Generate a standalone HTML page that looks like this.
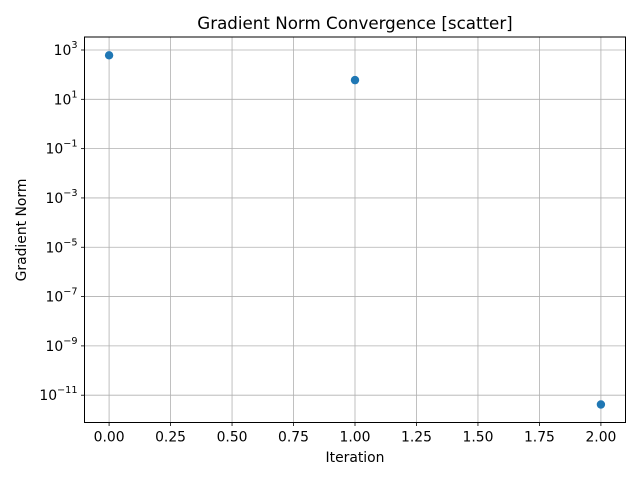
<!DOCTYPE html>
<html><head><meta charset="utf-8"><style>
body{margin:0;background:#fff;}
svg text{font-family:"DejaVu Sans","Liberation Sans",sans-serif;fill:#000;}
</style></head><body>
<svg id="chart" width="640" height="480">
<rect width="640" height="480" fill="#fff"/>
<g id="grid"></g>
<g id="ticks"></g>
<g id="points"></g>
<rect x="84.5" y="37" width="541" height="385.5" fill="none" stroke="#000" stroke-width="1"/>
<text x="355" y="29" font-size="16.7" text-anchor="middle">Gradient Norm Convergence [scatter]</text>
<text x="355" y="462" font-size="13.9" text-anchor="middle">Iteration</text>
<text transform="translate(26,230) rotate(-90)" font-size="13.9" text-anchor="middle">Gradient Norm</text>
</svg>
<script>
const iterations=[0,1,2];
const gradNorms=[610,60,4.2e-12];
const xTicks=[0,0.25,0.5,0.75,1,1.25,1.5,1.75,2];
const xTickLabels=["0.00","0.25","0.50","0.75","1.00","1.25","1.50","1.75","2.00"];
const yTickExps=[3,1,-1,-3,-5,-7,-9,-11];
const NS="http://www.w3.org/2000/svg";
const L=84.5,R=625.5,T=37,B=422.5;
const xMin=-0.1,xMax=2.1,yMinE=-12.107,yMaxE=3.527;
function xs(v){return L+(v-xMin)/(xMax-xMin)*(R-L);}
function ys(v){return B-(Math.log10(v)-yMinE)/(yMaxE-yMinE)*(B-T);}
function mk(tag,attrs,parent){const e=document.createElementNS(NS,tag);for(const k in attrs)e.setAttribute(k,attrs[k]);document.getElementById(parent).appendChild(e);return e;}
xTicks.forEach((t,i)=>{const x=xs(t);
 const g=mk('line',{x1:x,x2:x,y1:T,y2:B,stroke:'#b0b0b0','stroke-width':0.8},'grid');
 
 
 const tk=mk('line',{x1:x,x2:x,y1:B,y2:B+3.5,stroke:'#000','stroke-width':0.8},'ticks');
 
 
 const tx=mk('text',{x:x,y:B+19,'font-size':13.9,'text-anchor':'middle'},'ticks');
 tx.textContent=xTickLabels[i];
 
 
});
yTickExps.forEach(e=>{const y=ys(Math.pow(10,e));
 const g=mk('line',{x1:L,x2:R,y1:y,y2:y,stroke:'#b0b0b0','stroke-width':0.8},'grid');
 
 
 const tk=mk('line',{x1:L-3.5,x2:L,y1:y,y2:y,stroke:'#000','stroke-width':0.8},'ticks');
 
 
 const tx=mk('text',{x:L-7,y:y+5,'font-size':13.9,'text-anchor':'end'},'ticks');
 tx.innerHTML='10<tspan dy="-7" font-size="9.7">'+(e<0?'\u2212'+(-e):e)+'</tspan>';
 
 
});
iterations.forEach((it,i)=>{
 const c=mk('circle',{cx:xs(it),cy:ys(gradNorms[i]),r:4.2,fill:'#1f77b4'},'points');
 
 
});
</script>
</body></html>
